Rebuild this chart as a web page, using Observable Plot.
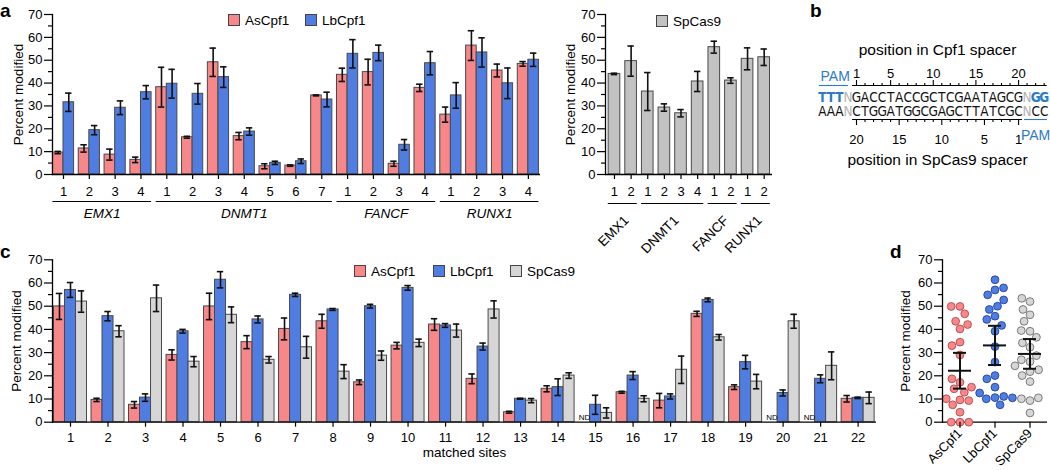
<!DOCTYPE html>
<html><head><meta charset="utf-8">
<script src="https://cdn.jsdelivr.net/npm/d3@7"></script>
<script src="https://cdn.jsdelivr.net/npm/@observablehq/plot@0.6"></script>
<style>
body{margin:0;background:#fff;}
#fig{position:relative;width:1050px;height:470px;overflow:hidden;background:#fff;}
#fig svg{position:absolute;}
</style></head><body><div id="fig"></div>
<script>
// ---------- data ----------
const series = ["AsCpf1", "LbCpf1", "SpCas9"];
const seriesFill = {AsCpf1: "#F8878A", LbCpf1: "#4F7DE2", SpCas9: "#D6D6D6"};
const seriesDotStroke = {AsCpf1: "#B5484C", LbCpf1: "#22429E", SpCas9: "#6E6E6E"};
const spGrayA = "#C2C2C2";
const yMajor = [0, 10, 20, 30, 40, 50, 60, 70];
const yMinor = [5, 15, 25, 35, 45, 55, 65];

// panel a (left): AsCpf1 / LbCpf1 at 19 sites
const aGene = ["EMX1","EMX1","EMX1","EMX1","DNMT1","DNMT1","DNMT1","DNMT1","DNMT1","DNMT1","DNMT1","FANCF","FANCF","FANCF","FANCF","RUNX1","RUNX1","RUNX1","RUNX1"];
const aSite = [1,2,3,4, 1,2,3,4,5,6,7, 1,2,3,4, 1,2,3,4];
const aAs    = [9.6,11.4,8.7,6.4, 38.2,16.3,49.1,16.8,3.6,3.9,34.6, 43.6,44.8,4.7,37.9, 26.2,56.4,45.5,48.4];
const aAsErr = [0.5,1.6,2.4,1.2, 8.7,0.4,6.2,1.6,1.1,0.3,0.2, 2.9,5.6,1.1,1.6, 3.3,6.5,2.8,1.0];
const aLb    = [31.6,19.4,29.2,36.0, 39.7,35.3,42.6,18.8,5.1,5.8,32.8, 52.8,53.2,13.0,48.7, 34.6,53.4,39.9,50.2];
const aLbErr = [4.0,2.0,3.0,2.9, 6.3,4.5,4.5,1.6,0.7,1.0,3.2, 6.2,3.4,2.3,5.1, 5.6,6.4,6.7,2.9];

// panel a (right): SpCas9 at 10 sites
const aSpGene = ["EMX1","EMX1","DNMT1","DNMT1","DNMT1","DNMT1","FANCF","FANCF","RUNX1","RUNX1"];
const aSpSite = [1,2, 1,2,3,4, 1,2, 1,2];
const aSp     = [44.0,49.6,36.3,29.3,26.8,40.7,55.7,41.1,50.6,51.3];
const aSpErr  = [0.3,6.6,8.3,1.6,1.6,4.4,2.6,1.2,4.8,3.6];

// panel b
const cpf1Strand = "TTTNGACCTACCGCTCGAATAGCGNGG";
const cas9Strand = "AAANCTGGATGGCGAGCTTATCGCNCC";
const strandStart = -3;           // spacer position of first character
const spacerLength = 20;
const cpf1Labels = [1, 5, 10, 15, 20];
const cas9Labels = [20, 15, 10, 5, 1];
const cpf1RulerEnd = 23;

// panel c: matched sites (null = ND)
const cSites = [1,2,3,4,5,6,7,8,9,10,11,12,13,14,15,16,17,18,19,20,21,22];
const cAs    = [49.9,9.6,7.5,29.0,49.9,34.5,40.2,43.5,17.2,33.0,42.1,18.7,4.3,14.4,null,12.9,9.3,46.7,15.1,null,null,10.1];
const cAsErr = [5.6,0.7,1.4,2.2,5.7,2.8,4.7,3.0,1.0,1.4,2.5,2.1,0.4,1.3,null,0.4,3.1,1.1,1.0,null,null,1.4];
const cLb    = [57.0,45.7,10.6,39.2,61.4,44.3,54.9,48.6,50.0,57.9,41.7,32.6,10.1,15.1,7.5,20.1,11.1,52.7,25.9,12.6,18.7,10.5];
const cLbErr = [3.2,2.0,1.6,0.8,3.5,1.5,0.7,0.4,0.8,1.0,0.8,1.5,0.2,3.6,4.1,1.7,1.1,0.8,2.9,1.3,1.7,0.3];
const cSp    = [52.0,39.2,53.4,26.1,46.3,26.9,32.3,21.8,28.7,34.2,39.5,48.6,9.3,20.1,4.0,10.1,22.6,36.6,17.5,43.5,24.3,10.5];
const cSpErr = [4.6,2.4,5.7,2.2,3.4,1.4,4.7,3.0,2.0,1.6,2.8,3.7,0.9,1.2,2.2,1.3,5.9,1.2,3.1,3.0,6.0,2.5];
const tCrit95 = 2.080; // t(0.975, df = 21)

// ---------- helpers ----------
const FONT = '"Liberation Sans", Arial, Helvetica, sans-serif';
const baseStyle = {fontFamily: FONT, fontSize: "13px", background: "transparent", overflow: "visible", color: "#000"};
const fig = document.getElementById("fig");
function place(svg, left, top) { svg.style.left = left + "px"; svg.style.top = top + "px"; fig.appendChild(svg); }

function yAxisMarks(dx, extra = {}) {
  return [
    Plot.axisY(yMajor, {tickSize: 8, tickPadding: 2, strokeWidth: 1.2, label: null, ...extra}),
    Plot.axisY(yMinor, {tickSize: 4, strokeWidth: 1.2, tickFormat: () => "", label: null, ...extra}),
    Plot.frame({anchor: "left", strokeWidth: 1.3, ...extra}),
    Plot.text(["Percent modified"], {text: d => d, frameAnchor: "left", textAnchor: "middle", dx, rotate: -90, fontSize: 13.5, ...extra})
  ];
}
function barLayers(data, offsets, fillOf) {
  const ok = d => d.value != null;
  const mid = d => d.i + (offsets[d.series][0] + offsets[d.series][1]) / 2;
  const err = {stroke: "#111", strokeWidth: 1.6};
  return [
    Plot.rectY(data, {filter: ok, x1: d => d.i + offsets[d.series][0], x2: d => d.i + offsets[d.series][1],
      y1: 0, y2: "value", fill: d => fillOf[d.series], stroke: "#4a4a4a", strokeWidth: 1}),
    Plot.ruleX(data, {filter: ok, x: mid, y1: d => d.value - d.err, y2: d => d.value + d.err, ...err}),
    Plot.ruleY(data, {filter: ok, x1: mid, x2: mid, y: d => d.value + d.err, insetLeft: -3.2, insetRight: -3.2, ...err}),
    Plot.ruleY(data, {filter: ok, x1: mid, x2: mid, y: d => d.value - d.err, insetLeft: -3.2, insetRight: -3.2, ...err})
  ];
}
function groupsOf(genes) {
  return d3.groups(genes.map((g, k) => ({gene: g, i: k + 1})), d => d.gene)
    .map(([gene, rows]) => ({gene, first: d3.min(rows, d => d.i), last: d3.max(rows, d => d.i)}));
}

// ---------- panel a (left) ----------
const aBars = aGene.flatMap((g, k) => [
  {i: k + 1, series: "AsCpf1", value: aAs[k], err: aAsErr[k]},
  {i: k + 1, series: "LbCpf1", value: aLb[k], err: aLbErr[k]}
]);
const aOffset = {AsCpf1: [-0.41, 0], LbCpf1: [0, 0.41]};
const aGroups = groupsOf(aGene);
place(Plot.plot({
  width: 545, height: 224, marginTop: 14, marginBottom: 50, marginLeft: 52, marginRight: 5,
  x: {domain: [0.574, 19.47]}, y: {domain: [0, 70]}, style: baseStyle,
  marks: [
    ...barLayers(aBars, aOffset, seriesFill),
    Plot.ruleY([0], {strokeWidth: 1.3}),
    ...yAxisMarks(-34),
    Plot.axisX(aGene.map((g, k) => k + 1), {tickSize: 5, tickPadding: 7, strokeWidth: 1.2, tickFormat: i => aSite[i - 1], label: null}),
    Plot.ruleY(aGroups, {x1: d => d.first - 0.41, x2: d => d.last + 0.41, y: 0, dy: 27, strokeWidth: 1}),
    Plot.text(aGroups, {x: d => (d.first + d.last) / 2, y: 0, dy: 39, text: "gene", fontStyle: "italic", fontSize: 13.5})
  ]
}), 0, 0);

// ---------- panel a (right) ----------
const aSpBars = aSpGene.map((g, k) => ({i: k + 1, series: "SpCas9", value: aSp[k], err: aSpErr[k]}));
const aSpGroups = groupsOf(aSpGene);
place(Plot.plot({
  width: 220, height: 250, marginTop: 14, marginBottom: 76, marginLeft: 45, marginRight: 8,
  x: {domain: [0.46, 10.5]}, y: {domain: [0, 70]}, style: baseStyle,
  marks: [
    ...barLayers(aSpBars, {SpCas9: [-0.35, 0.35]}, {SpCas9: spGrayA}),
    Plot.ruleY([0], {strokeWidth: 1.3}),
    ...yAxisMarks(-35),
    Plot.axisX(aSpGene.map((g, k) => k + 1), {tickSize: 5, tickPadding: 7, strokeWidth: 1.2, tickFormat: i => aSpSite[i - 1], label: null}),
    Plot.ruleY(aSpGroups, {x1: d => d.first - 0.37, x2: d => d.last + 0.37, y: 0, dy: 29, strokeWidth: 1}),
    Plot.text(aSpGroups, {x: d => (d.first + d.last) / 2, y: 0, dy: 40, text: "gene", rotate: -45, textAnchor: "end", lineAnchor: "top", fontSize: 13.5})
  ]
}), 560, 0);

// ---------- panel b ----------
const PAMBLUE = "#2B7BC6";
const roleFill = {pam: PAMBLUE, n: "#B3B3B3", base: "#111"};
const topChars = cpf1Strand.split("").map((ch, k) => {
  const p = k + strandStart;
  return {p, ch, role: ch === "N" ? "n" : (p < 1 || p > spacerLength ? "pam" : "base")};
});
const botChars = cas9Strand.split("").map((ch, k) => ({p: k + strandStart, ch, role: ch === "N" ? "n" : "base"}));
const cpf1Minor = d3.range(1, cpf1RulerEnd + 1).filter(p => !cpf1Labels.includes(p));
const cas9Major = cas9Labels.map(l => spacerLength + 1 - l);
const cas9Minor = d3.range(1, spacerLength + 1).filter(p => !cas9Major.includes(p));
const seqFont = '"Liberation Sans Narrow", "DejaVu Sans Condensed", "Liberation Sans", Arial, sans-serif';
const seqText = {x: "p", text: "ch", fontSize: 13.5, fontFamily: seqFont, fill: d => roleFill[d.role]};
place(Plot.plot({
  width: 250, height: 175, marginTop: 85, marginBottom: 56, marginLeft: 0, marginRight: 0,
  x: {domain: [-5.565, 23.744]}, y: {domain: [0, 1], axis: null}, style: {...baseStyle, fontSize: "13px"},
  marks: [
    Plot.axisX(cpf1Labels, {anchor: "top", tickSize: 6, tickPadding: 2, strokeWidth: 1.1, label: null}),
    Plot.axisX(cpf1Minor, {anchor: "top", tickSize: 3, strokeWidth: 1.1, tickFormat: () => "", label: null}),
    Plot.axisX(cas9Major, {anchor: "bottom", tickSize: 6, tickPadding: 9, strokeWidth: 1.1, tickFormat: p => spacerLength + 1 - p, label: null}),
    Plot.axisX(cas9Minor, {anchor: "bottom", tickSize: 3, strokeWidth: 1.1, tickFormat: () => "", label: null}),
    Plot.ruleY([1], {x1: 1, x2: cpf1RulerEnd, insetLeft: -4, insetRight: -3, strokeWidth: 1.1}),
    Plot.ruleY([0], {x1: 1, x2: spacerLength, insetLeft: -4, insetRight: -4, strokeWidth: 1.1}),
    // PAM marks
    Plot.ruleY([1], {x1: strandStart, x2: strandStart + 2, insetLeft: -3, insetRight: -9, stroke: PAMBLUE, strokeWidth: 1.1}),
    Plot.text(["PAM"], {text: d => d, x: strandStart + 1.5, y: 1, dy: -9, fill: PAMBLUE, fontSize: 14}),
    Plot.ruleY([0], {x1: spacerLength + 1, x2: spacerLength + 3, insetLeft: -2.6, insetRight: -3.3, stroke: PAMBLUE, strokeWidth: 1.1}),
    Plot.text(["PAM"], {text: d => d, x: spacerLength + 2, y: 0, dy: 16, fill: PAMBLUE, fontSize: 14}),
    // sequences
    Plot.text(topChars.filter(d => d.role !== "pam"), {...seqText, y: 1, dy: 12}),
    Plot.text(topChars.filter(d => d.role === "pam"), {...seqText, y: 1, dy: 12, fontWeight: "bold"}),
    Plot.text(botChars, {...seqText, y: 0, dy: -8}),
    // titles
    Plot.text(["position in Cpf1 spacer"], {text: d => d, x: (1 + spacerLength) / 2, y: 1, dy: -35, fontSize: 15.5}),
    Plot.text(["position in SpCas9 spacer"], {text: d => d, x: (1 + spacerLength) / 2, y: 0, dy: 41, fontSize: 15.5})
  ]
}), 800, 0);

// ---------- panel c ----------
const cVals = [cAs, cLb, cSp], cErrs = [cAsErr, cLbErr, cSpErr];
const cBars = cSites.flatMap((s, k) => series.map((name, j) => ({i: s, series: name, value: cVals[j][k], err: cErrs[j][k]})));
const cOffset = {AsCpf1: [-0.44, -0.147], LbCpf1: [-0.147, 0.147], SpCas9: [0.147, 0.44]};
place(Plot.plot({
  width: 880, height: 230, marginTop: 19.3, marginBottom: 48.3, marginLeft: 52, marginRight: 4,
  x: {domain: [0.52, 22.49]}, y: {domain: [0, 70]}, style: baseStyle,
  marks: [
    ...barLayers(cBars, cOffset, seriesFill),
    Plot.text(cBars, {filter: d => d.value == null, x: d => d.i + (cOffset[d.series][0] + cOffset[d.series][1]) / 2, y: 0, dy: -5, text: () => "ND", fontSize: 8}),
    Plot.ruleY([0], {strokeWidth: 1.3}),
    ...yAxisMarks(-36),
    Plot.axisX(cSites, {tickSize: 5, tickPadding: 6, strokeWidth: 1.2, label: null}),
    Plot.text(["matched sites"], {text: d => d, frameAnchor: "bottom", dy: 35, fontSize: 13.5})
  ]
}), 0, 240);

// ---------- panel d ----------
const dData = series.flatMap((s, j) => cVals[j].map(v => ({series: s, value: v ?? 0})));
const dStats = series.map((s, j) => {
  const v = cVals[j].map(x => x ?? 0);
  const m = d3.mean(v), h = tCrit95 * d3.deviation(v) / Math.sqrt(v.length);
  return {series: s, mean: m, lo: m - h, hi: m + h};
});
const ci = {fx: "series", stroke: "#111", strokeWidth: 2};
place(Plot.plot({
  width: 155, height: 230, marginTop: 19.3, marginBottom: 48.3, marginLeft: 47, marginRight: 3,
  fx: {domain: series, padding: 0, label: null}, y: {domain: [0, 70]}, style: baseStyle,
  marks: [
    Plot.ruleY([0], {strokeWidth: 1.3}),
    Plot.dot(dData, Plot.dodgeX("middle", {fx: "series", y: "value", r: 3.9, padding: 0.4,
      fill: d => seriesFill[d.series], stroke: d => seriesDotStroke[d.series], strokeWidth: 0.9})),
    Plot.ruleY(dStats, {...ci, y: "mean", insetLeft: 6, insetRight: 6}),
    Plot.ruleX(dStats, {...ci, x: null, y1: "lo", y2: "hi"}),
    Plot.ruleY(dStats, {...ci, y: "lo", insetLeft: 11, insetRight: 11}),
    Plot.ruleY(dStats, {...ci, y: "hi", insetLeft: 11, insetRight: 11}),
    ...yAxisMarks(-37, {facetAnchor: "left"}),
    Plot.axisFx({anchor: "bottom", tickRotate: -45, tickSize: 6, tickPadding: 3, strokeWidth: 1.2, label: null})
  ]
}), 895, 240);

// ---------- overlay: panel letters and legends ----------
const ov = d3.create("svg").attr("width", 1050).attr("height", 470)
  .style("left", "0px").style("top", "0px").style("pointer-events", "none")
  .attr("font-family", FONT);
[["a", 0, 17], ["b", 810, 17], ["c", 0, 258], ["d", 890, 258]].forEach(([t, x, y]) =>
  ov.append("text").attr("x", x).attr("y", y).attr("font-size", 19).attr("font-weight", "bold").text(t));
function legend(items, top) {
  items.forEach(([name, x, fill]) => {
    ov.append("rect").attr("x", x + 0.5).attr("y", top + 0.5).attr("width", 11).attr("height", 11)
      .attr("fill", fill).attr("stroke", "#444").attr("stroke-width", 1);
    ov.append("text").attr("x", x + 17).attr("y", top + 6).attr("dominant-baseline", "central")
      .attr("font-size", 13.5).text(name);
  });
}
legend([["AsCpf1", 228, seriesFill.AsCpf1], ["LbCpf1", 305, seriesFill.LbCpf1]], 14);
legend([["SpCas9", 656, spGrayA]], 15);
legend([["AsCpf1", 354, seriesFill.AsCpf1], ["LbCpf1", 433, seriesFill.LbCpf1], ["SpCas9", 510, seriesFill.SpCas9]], 265);
fig.appendChild(ov.node());
</script></body></html>
